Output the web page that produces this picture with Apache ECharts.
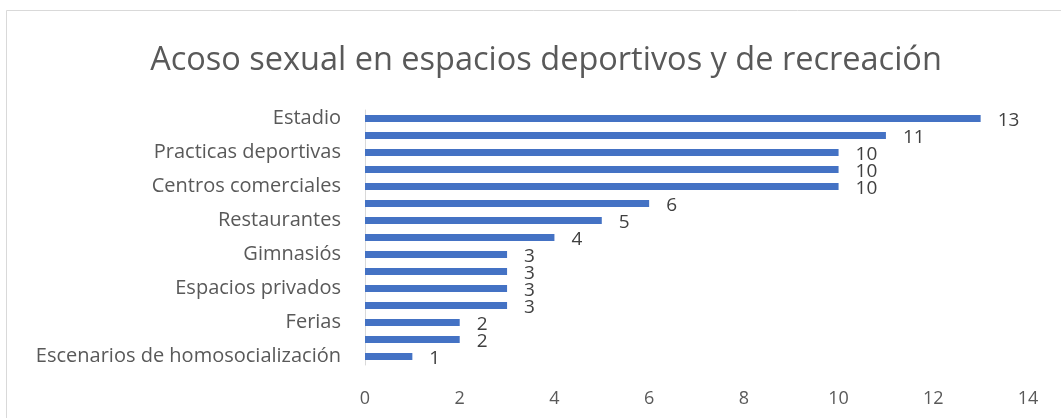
<!DOCTYPE html>
<html>
<head>
<meta charset="utf-8">
<script src="https://cdn.jsdelivr.net/npm/echarts@6/dist/echarts.min.js"></script>
<style>
  html, body { margin: 0; padding: 0; background: #fff; }
  #chart { width: 1061px; height: 418px; }
</style>
</head>
<body>
<div id="chart"></div>
<script>
// categorias de abajo hacia arriba (solo se ve una de cada dos)
var lugares = [
    'Escenarios de homosocialización',
    'Eventos culturales',
    'Ferias',
    'Conciertos',
    'Espacios privados',
    'Piscinas',
    'Gimnasiós',
    'Discotecas',
    'Restaurantes',
    'Bares',
    'Centros comerciales',
    'Calles',
    'Practicas deportivas',
    'Parques',
    'Estadio'
];
var casos = [1, 2, 2, 3, 3, 3, 3, 4, 5, 6, 10, 10, 10, 11, 13];
var ejeX = { min: 0, max: 14, interval: 2 };

var myChart = echarts.init(document.getElementById('chart'));
var fuente = '"Open Sans", sans-serif';

option = {
    backgroundColor: '#fff',
    animation: false,
    title: {
        text: 'Acoso sexual en espacios deportivos y de recreación',
        left: 541,
        top: 39,
        textAlign: 'center',
        textStyle: {
            color: '#595959',
            fontSize: 32.5,
            fontWeight: 'normal',
            fontFamily: fuente
        }
    },
    graphic: [{
        type: 'polyline',
        shape: { points: [[6.5, 418], [6.5, 10.5], [1061, 10.5]] },
        style: { stroke: '#d9d9d9', lineWidth: 1, fill: null }
    }],
    grid: {
        left: 365,
        right: 33,
        top: 110,
        bottom: 53,
        containLabel: false
    },
    xAxis: {
        type: 'value',
        min: ejeX.min,
        max: ejeX.max,
        interval: ejeX.interval,
        axisLine: { show: false },
        axisTick: { show: false },
        splitLine: { show: false },
        axisLabel: {
            color: '#595959',
            fontSize: 18,
            fontFamily: fuente,
            margin: 25
        }
    },
    yAxis: {
        type: 'category',
        data: lugares,
        axisLine: { show: true, lineStyle: { color: '#d9d9d9', width: 1 } },
        axisTick: { show: false },
        splitLine: { show: false },
        axisLabel: {
            interval: 1,
            color: '#595959',
            fontSize: 20,
            fontFamily: fuente,
            margin: 24
        }
    },
    series: [{
        type: 'bar',
        data: casos,
        barWidth: 7,
        itemStyle: { color: '#4472C4' },
        label: {
            show: true,
            position: 'right',
            distance: 17,
            offset: [0, 2],
            color: '#404040',
            fontSize: 19,
            fontFamily: fuente
        }
    }]
};

myChart.setOption(option);
window.addEventListener('resize', function () {
    myChart.resize();
});
</script>
</body>
</html>
